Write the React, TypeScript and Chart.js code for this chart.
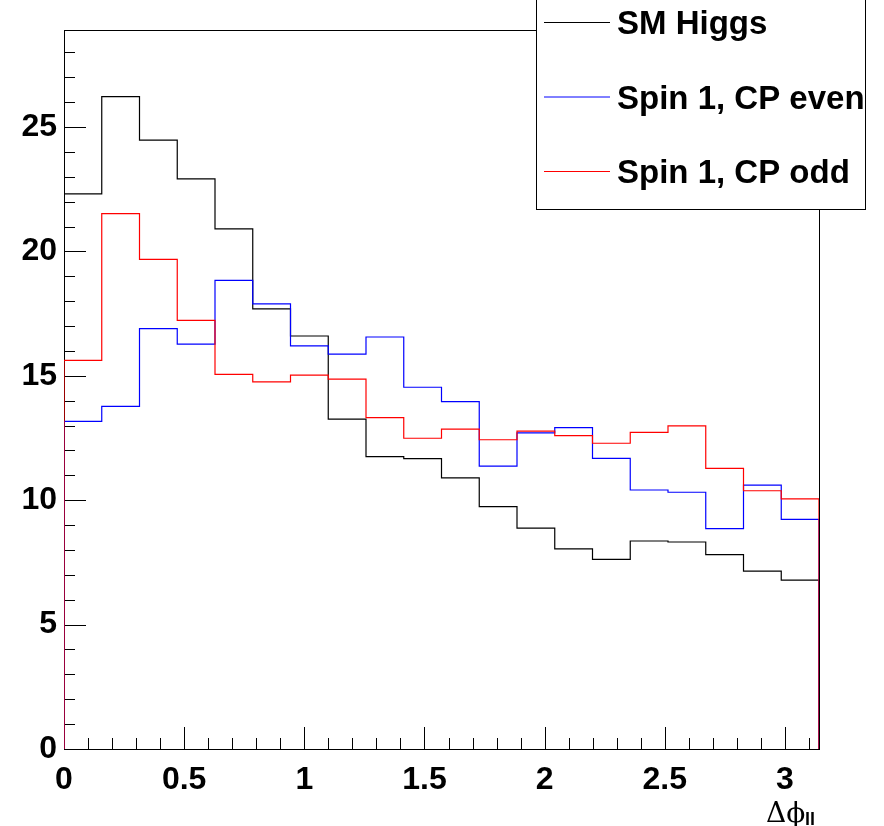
import React, { useEffect, useRef } from "react";
import { Chart, registerables } from "chart.js";

Chart.register(...registerables);

const X_MIN = 0;
const X_MAX = Math.PI;
const Y_MAX = 28.9;
const N_BINS = 20;

const seriesLabels = ["SM Higgs", "Spin 1, CP even", "Spin 1, CP odd"];
const seriesColors = ["#000000", "#0000ff", "#ff0000"];

const smHiggs = [22.31, 26.22, 24.47, 22.92, 20.91, 17.69, 16.6, 13.26, 11.75, 11.67,
  10.9, 9.74, 8.88, 8.04, 7.62, 8.36, 8.32, 7.81, 7.15, 6.79];
const spin1Even = [13.17, 13.77, 16.9, 16.27, 18.84, 17.89, 16.2, 15.87, 16.56, 14.54,
  13.96, 11.37, 12.71, 12.92, 11.68, 10.41, 10.32, 8.86, 10.61, 9.23];
const spin1Odd = [15.62, 21.52, 19.68, 17.23, 15.06, 14.76, 15.03, 14.87, 13.32, 12.49,
  12.86, 12.43, 12.78, 12.6, 12.29, 12.73, 12.99, 11.28, 10.38, 10.05];

const xTickValues = [0, 0.5, 1, 1.5, 2, 2.5, 3];
const yTickValues = [0, 5, 10, 15, 20, 25];

function histPoints(values: number[]) {
  const w = (X_MAX - X_MIN) / N_BINS;
  const pts: { x: number; y: number }[] = [{ x: X_MIN, y: 0 }];
  values.forEach((v, i) => pts.push({ x: X_MIN + i * w, y: v }));
  pts.push({ x: X_MAX, y: values[values.length - 1] });
  pts.push({ x: X_MAX, y: 0 });
  return pts;
}

const FONT = "'Liberation Sans', Arial, Helvetica, sans-serif";

const decorPlugin = {
  id: "rootDecor",
  beforeDatasetsDraw(chart: any) {
    const { ctx, chartArea: a, scales } = chart;
    const xs = scales.x;
    const ys = scales.y;
    ctx.save();
    ctx.strokeStyle = "#000";
    ctx.lineWidth = 1;
    ctx.strokeRect(a.left + 0.5, a.top + 0.5, a.right - a.left, a.bottom - a.top);
    ctx.beginPath();
    for (let k = 0; k <= 31; k++) {
      const v = k * 0.1;
      if (v > X_MAX) break;
      const px = Math.round(xs.getPixelForValue(v)) + 0.5;
      const len = k % 5 === 0 ? 22 : 11;
      ctx.moveTo(px, a.bottom);
      ctx.lineTo(px, a.bottom - len);
    }
    for (let k = 0; k <= 28; k++) {
      const py = Math.round(ys.getPixelForValue(k)) + 0.5;
      const len = k % 5 === 0 ? 22 : 11;
      ctx.moveTo(a.left, py);
      ctx.lineTo(a.left + len, py);
    }
    ctx.stroke();
    ctx.restore();
  },
  afterDraw(chart: any) {
    const { ctx } = chart;
    ctx.save();
    const bx = 536, by = -5, bw = 329, bh = 214;
    ctx.fillStyle = "#fff";
    ctx.fillRect(bx, by, bw, bh);
    ctx.strokeStyle = "#000";
    ctx.lineWidth = 1;
    ctx.strokeRect(bx + 0.5, by + 0.5, bw, bh);
    const rows = [22, 96.5, 171];
    seriesLabels.forEach((lab, i) => {
      ctx.strokeStyle = seriesColors[i];
      ctx.beginPath();
      ctx.moveTo(544, rows[i] + 0.5);
      ctx.lineTo(610, rows[i] + 0.5);
      ctx.stroke();
      ctx.fillStyle = "#000";
      ctx.font = `bold 33px ${FONT}`;
      ctx.textBaseline = "alphabetic";
      ctx.textAlign = "left";
      ctx.fillText(lab, 617, rows[i] + 12);
    });
    ctx.fillStyle = "#000";
    ctx.font = `28px 'DejaVu Serif', 'Liberation Serif', serif`;
    ctx.textBaseline = "alphabetic";
    ctx.fillText("\u0394\u03D5", 766, 822);
    ctx.font = `bold 18px ${FONT}`;
    ctx.fillText("ll", 805, 825);
    ctx.restore();
  },
};

export default function App() {
  const ref = useRef<HTMLCanvasElement>(null);
  useEffect(() => {
    document.body.style.margin = "0";
    const chart = new Chart(ref.current!, {
      type: "line",
      data: {
        datasets: [smHiggs, spin1Even, spin1Odd].map((vals, i) => ({
          label: seriesLabels[i],
          data: histPoints(vals),
          borderColor: seriesColors[i],
          borderWidth: 1.2,
          pointRadius: 0,
          stepped: "before" as const,
          fill: false,
          order: 3 - i,
        })),
      },
      options: {
        animation: false,
        responsive: false,
        events: [],
        layout: { padding: { top: 30, right: 65, left: 0, bottom: 0 } },
        plugins: { legend: { display: false }, tooltip: { enabled: false }, title: { display: false } },
        scales: {
          x: {
            type: "linear",
            min: X_MIN,
            max: X_MAX,
            afterFit: (s: any) => { s.height = 77; },
            afterBuildTicks: (s: any) => { s.ticks = xTickValues.map((v) => ({ value: v })); },
            grid: { display: false, drawTicks: false },
            border: { display: false },
            ticks: {
              color: "#000",
              font: { family: FONT, size: 32, weight: "bold" },
              padding: 12,
              maxRotation: 0,
              autoSkip: false,
              callback: (v: any) => String(v),
            },
          },
          y: {
            type: "linear",
            min: 0,
            max: Y_MAX,
            afterFit: (s: any) => { s.width = 64; },
            afterBuildTicks: (s: any) => { s.ticks = yTickValues.map((v) => ({ value: v })); },
            grid: { display: false, drawTicks: false },
            border: { display: false },
            ticks: {
              color: "#000",
              font: { family: FONT, size: 32, weight: "bold" },
              padding: 7,
              autoSkip: false,
              callback: (v: any) => String(v),
            },
          },
        },
      },
      plugins: [decorPlugin],
    });
    return () => chart.destroy();
  }, []);
  return (
    <div style={{ width: 884, height: 826, background: "#fff" }}>
      <canvas ref={ref} width={884} height={826} />
    </div>
  );
}
